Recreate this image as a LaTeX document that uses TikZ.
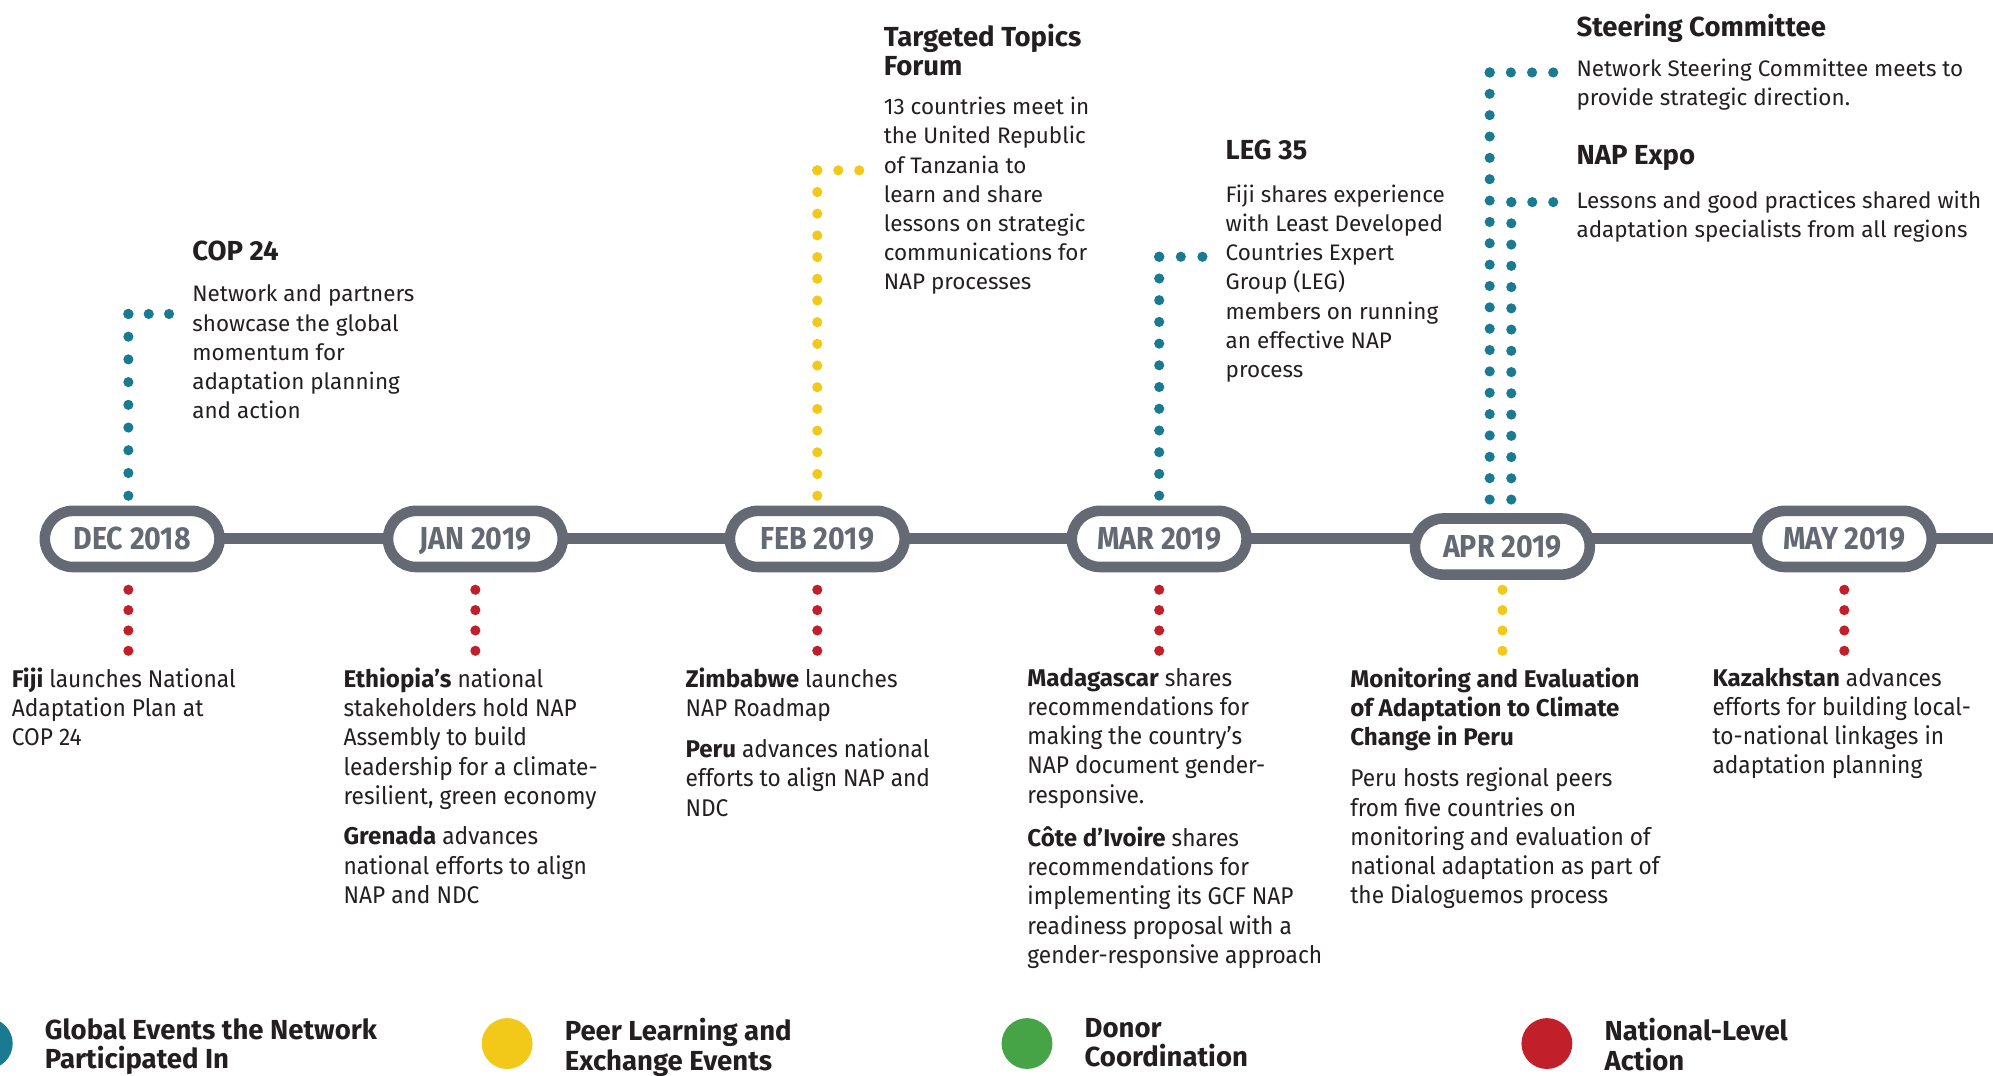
\documentclass[tikz,border=0pt]{standalone}
\usepackage{fontspec}
\setmainfont{Fira Sans}
\newfontfamily\narrowfont[FakeStretch=0.94]{Fira Sans}
\newfontfamily\pillfont[FakeStretch=0.9]{Fira Sans}
\newcommand{\placename}[1]{{\normalfont\bfseries #1}}
\usetikzlibrary{shapes.misc,positioning,backgrounds}
\definecolor{slate}{HTML}{646973}
\definecolor{netteal}{HTML}{1A7A92}
\definecolor{netyellow}{HTML}{F2C918}
\definecolor{netgreen}{HTML}{47A446}
\definecolor{netred}{HTML}{C1202B}
\definecolor{ink}{HTML}{231F20}

\begin{document}
\begin{tikzpicture}[x=0.6pt,y=-0.6pt,
 every node/.style={inner sep=0pt,text=ink},
 month/.style={rounded rectangle,draw=slate,line width=5pt,fill=white,
   minimum width=82.5pt,minimum height=26.5pt,text=slate,
   text height=10.2pt,text depth=0pt,
   font=\pillfont\fontsize{15}{16}\selectfont\bfseries},
 timeline/.style={draw=slate,line width=5.2pt},
 eventhead/.style={anchor=north west,align=left,
   font=\fontsize{13}{13.3}\selectfont\bfseries},
 eventtext/.style={anchor=north west,align=left,
   font=\fontsize{10.6}{13.8}\selectfont},
 actiontext/.style={anchor=north west,align=left,
   font=\narrowfont\fontsize{11.4}{13.8}\selectfont},
 dotrun/.style={line width=4.8pt,line cap=round,dash pattern=on 0pt off #1},
 dotrun/.default=10.26pt,
 globalrun/.style={dotrun=#1,draw=netteal},
 globalrun/.default=10.26pt,
 peerrun/.style={dotrun=#1,draw=netyellow},
 peerrun/.default=10.26pt,
 nationalrun/.style={dotrun=9.6pt,draw=netred},
 legendkey/.style={circle,minimum size=24pt},
 legendtext/.style={anchor=north west,align=left,
   font=\fontsize{13}{13.8}\selectfont\bfseries}]
 \useasboundingbox (0,0) rectangle (1568,846);

 \node[month] (dec) at (104,424) {DEC 2018};
 \node[month] (jan) at (374,424) {JAN 2019};
 \node[month] (feb) at (643,424) {FEB 2019};
 \node[month] (mar) at (912,424) {MAR 2019};
 \node[month] (apr) at (1182,430) {APR 2019};
 \node[month] (may) at (1451,424) {MAY 2019};
 \coordinate (lineend) at (1600,424);
 \begin{pgfonlayer}{background}
  \draw[timeline] (dec.center) -- (lineend);
 \end{pgfonlayer}

 % events above the line
 \node[eventhead] (coptitle) at (151,189) {COP 24};
 \node[eventtext] (copbody) at (151,224) {Network and partners\\showcase the global\\momentum for\\adaptation planning\\and action};
 \node[eventhead] (ttftitle) at (695,19) {Targeted Topics\\Forum};
 \node[eventtext] (ttfbody) at (695,76) {13 countries meet in\\the United Republic\\of Tanzania to\\learn and share\\lessons on strategic\\communications for\\NAP processes};
 \node[eventhead] (legtitle) at (964,110) {LEG 35};
 \node[eventtext] (legbody) at (964,145) {Fiji shares experience\\with Least Developed\\Countries Expert\\Group (LEG)\\members on running\\an effective NAP\\process};
 \node[eventhead] (sctitle) at (1240,11) {Steering Committee};
 \node[eventtext] (scbody) at (1240,46) {Network Steering Committee meets to\\provide strategic direction.};
 \node[eventhead] (expotitle) at (1240,114) {NAP Expo};
 \node[eventtext] (expobody) at (1240,150) {Lessons and good practices shared with\\adaptation specialists from all regions};

 \coordinate (dec-up) at (101,390.5);
 \coordinate (dec-bend) at (101,247);
 \coordinate (cop-in) at (133.5,247);
 \draw[globalrun=10.725pt] (dec-bend) -- (dec-up);
 \draw[globalrun=9.6pt] (dec-bend) -- (cop-in);
 \coordinate (feb-up) at (643,390.5);
 \coordinate (feb-bend) at (643,134);
 \coordinate (ttf-in) at (676.5,134);
 \draw[peerrun=10.24pt] (feb-bend) -- (feb-up);
 \draw[peerrun=9.9pt] (feb-bend) -- (ttf-in);
 \coordinate (mar-up) at (912,390.5);
 \coordinate (mar-bend) at (912,202);
 \coordinate (leg-in) at (946.5,202);
 \draw[globalrun=10.25pt] (mar-bend) -- (mar-up);
 \draw[globalrun=10.2pt] (mar-bend) -- (leg-in);
 \coordinate (apr-upa) at (1172,393.5);
 \coordinate (apr-benda) at (1172,57);
 \coordinate (sc-in) at (1222.5,57);
 \draw[globalrun=10.08pt] (apr-benda) -- (apr-upa);
 \draw[globalrun=10pt] (apr-benda) -- (sc-in);
 \coordinate (apr-upb) at (1189,393.5);
 \coordinate (apr-bendb) at (1189,159);
 \coordinate (expo-in) at (1222.5,159);
 \draw[globalrun=10.03pt] (apr-bendb) -- (apr-upb);
 \draw[globalrun=9.9pt] (apr-bendb) -- (expo-in);

 % actions below the line
 \node[actiontext] (fiji) at (9,525) {\placename{Fiji} launches National\\Adaptation Plan at\\COP 24};
 \node[actiontext] (ethiopia) at (270,525) {\placename{Ethiopia’s} national\\stakeholders hold NAP\\Assembly to build\\leadership for a climate-\\resilient, green economy};
 \node[actiontext] (grenada) at (270,650) {\placename{Grenada} advances\\national efforts to align\\NAP and NDC};
 \node[actiontext] (zimbabwe) at (539,525) {\placename{Zimbabwe} launches\\NAP Roadmap};
 \node[actiontext] (peru) at (539,581) {\placename{Peru} advances national\\efforts to align NAP and\\NDC};
 \node[actiontext] (madagascar) at (808,525) {\placename{Madagascar} shares\\recommendations for\\making the country’s\\NAP document gender-\\responsive.};
 \node[actiontext] (cote) at (808,650) {\placename{Côte d’Ivoire} shares\\recommendations for\\implementing its GCF NAP\\readiness proposal with a\\gender-responsive approach};
 \node[actiontext,font=\fontsize{11.4}{13.8}\selectfont\bfseries] (metitle) at (1062,525) {Monitoring and Evaluation\\of Adaptation to Climate\\Change in Peru};
 \node[actiontext] (mebody) at (1062,604) {Peru hosts regional peers\\from five countries on\\monitoring and evaluation of\\national adaptation as part of\\the Dialoguemos process};
 \node[actiontext] (kazakhstan) at (1347,525) {\placename{Kazakhstan} advances\\efforts for building local-\\to-national linkages in\\adaptation planning};

 \coordinate (dec-down) at (101,464);
 \coordinate (fiji-up) at (101,512.5);
 \draw[nationalrun] (dec-down) -- (fiji-up);
 \coordinate (jan-down) at (374,464);
 \coordinate (ethiopia-up) at (374,512.5);
 \draw[nationalrun] (jan-down) -- (ethiopia-up);
 \coordinate (feb-down) at (643,464);
 \coordinate (zimbabwe-up) at (643,512.5);
 \draw[nationalrun] (feb-down) -- (zimbabwe-up);
 \coordinate (mar-down) at (912,464);
 \coordinate (madagascar-up) at (912,512.5);
 \draw[nationalrun] (mar-down) -- (madagascar-up);
 \coordinate (apr-down) at (1182,464);
 \coordinate (me-up) at (1182,512.5);
 \draw[peerrun=9.6pt] (apr-down) -- (me-up);
 \coordinate (may-down) at (1451,464);
 \coordinate (kazakhstan-up) at (1451,512.5);
 \draw[nationalrun] (may-down) -- (kazakhstan-up);

 % legend
 \node[legendkey,fill=netteal] (keyglobal) at (-10,821) {};
 \node[legendtext] (labglobal) at (35,801) {Global Events the Network\\Participated In};
 \node[legendkey,fill=netyellow] (keypeer) at (399,821) {};
 \node[legendtext] (labpeer) at (444,801) {Peer Learning and\\Exchange Events};
 \node[legendkey,fill=netgreen] (keydonor) at (808,821) {};
 \node[legendtext] (labdonor) at (853,801) {Donor\\Coordination};
 \node[legendkey,fill=netred] (keynational) at (1217,821) {};
 \node[legendtext] (labnational) at (1262,801) {National-Level\\Action};
\end{tikzpicture}
\end{document}
